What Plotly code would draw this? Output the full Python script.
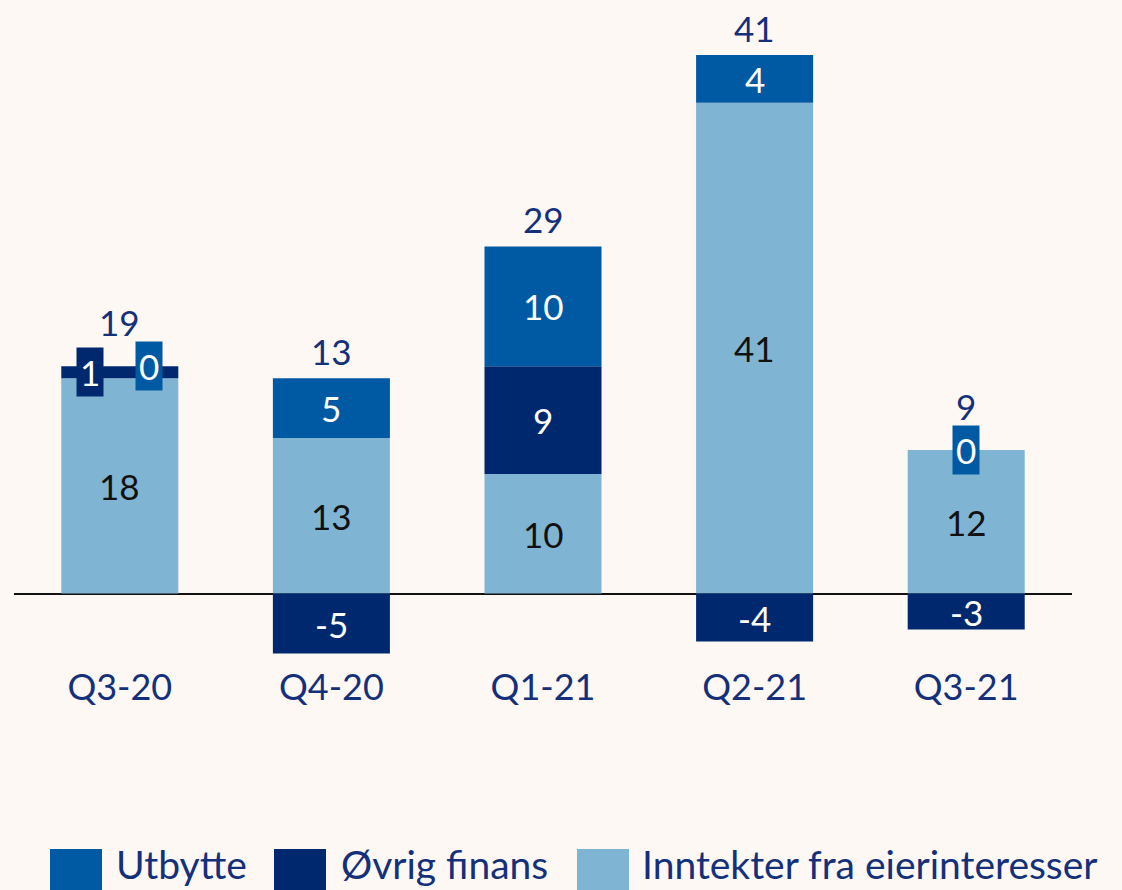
import plotly.graph_objects as go

categories = ["Q3-20", "Q4-20", "Q1-21", "Q2-21", "Q3-21"]
inntekter = [18, 13, 10, 41, 12]
ovrig = [1, -5, 9, -4, -3]
utbytte = [0, 5, 10, 4, 0]
totals = [19, 13, 29, 41, 9]

C_UTB = "#005AA3"
C_OVR = "#00286F"
C_INN = "#80B4D3"
NAVY = "#14307A"
BG = "#FDF8F4"
FONT = "Lato"
FS = 35

W, H = 1122, 890
ML, MR, MT, MB = 14, 50, 43, 227
YMIN, YMAX = -5.8, 46

fig = go.Figure()
for name, vals, col in [("Inntekter fra eierinteresser", inntekter, C_INN),
                        ("Øvrig finans", ovrig, C_OVR),
                        ("Utbytte", utbytte, C_UTB)]:
    fig.add_trace(go.Bar(x=categories, y=vals, name=name, marker_color=col,
                         marker_line_width=0, width=0.553, showlegend=False,
                         hoverinfo="x+y+name"))

ann = []
# segment labels
for i, c in enumerate(categories):
    pos_base, neg_base = 0.0, 0.0
    segs = []
    for vals, col, tcol in [(inntekter, C_INN, "#111111"), (ovrig, C_OVR, "white"), (utbytte, C_UTB, "white")]:
        v = vals[i]
        if v >= 0:
            mid = pos_base + v / 2
            pos_base += v
        else:
            mid = neg_base + v / 2
            neg_base += v
        segs.append((v, mid, col, tcol))
    small = [s for s in segs if abs(s[0]) < 2]
    shifts = {}
    if len(small) == 2:
        shifts[id(small[0])] = -30
        shifts[id(small[1])] = 29
    top_small = False
    for s in segs:
        v, mid, col, tcol = s
        if abs(v) < 2:
            top_small = True
            ann.append(dict(x=c, y=mid, text=str(v), showarrow=False,
                            font=dict(family=FONT, size=FS, color="white"),
                            bgcolor=col, borderpad=3, xshift=shifts.get(id(s), 0)))
        else:
            ann.append(dict(x=c, y=mid, text=str(v), showarrow=False,
                            font=dict(family=FONT, size=FS, color=tcol)))
    ann.append(dict(x=c, y=pos_base, text=str(totals[i]), showarrow=False,
                    yanchor="bottom", yshift=21 if top_small else 4,
                    font=dict(family=FONT, size=FS, color=NAVY)))

# custom legend
pw = W - ML - MR
ph = H - MT - MB
def px2x(px):
    return (px - ML) / pw
def py2y(py):
    return (H - MB - py) / ph

shapes = []
legend_items = [("Utbytte", C_UTB, 50, 114), ("Øvrig finans", C_OVR, 274, 339),
                ("Inntekter fra eierinteresser", C_INN, 577, 640)]
for name, col, sx, tx in legend_items:
    shapes.append(dict(type="rect", xref="paper", yref="paper",
                       x0=px2x(sx), x1=px2x(sx + 52), y0=py2y(901), y1=py2y(849),
                       fillcolor=col, line_width=0, layer="above"))
    ann.append(dict(xref="paper", yref="paper", x=px2x(tx), y=py2y(864),
                    text=name, showarrow=False, xanchor="left", yanchor="middle",
                    font=dict(family=FONT, size=39, color=NAVY)))

fig.update_layout(
    barmode="relative",
    width=W, height=H,
    margin=dict(l=ML, r=MR, t=MT, b=MB),
    paper_bgcolor=BG, plot_bgcolor=BG,
    font=dict(family=FONT, size=FS, color=NAVY),
    annotations=ann, shapes=shapes,
    xaxis=dict(range=[-0.5, 4.5], showgrid=False, showline=False, ticks="",
               tickfont=dict(family=FONT, size=36, color=NAVY)),
    yaxis=dict(range=[YMIN, YMAX], showgrid=False, showticklabels=False,
               zeroline=True, zerolinecolor="#111111", zerolinewidth=1.5),
)

fig.write_html("out.html", config={"displayModeBar": False},
               post_script="document.body.style.margin='0';document.body.style.background='%s';" % BG)
